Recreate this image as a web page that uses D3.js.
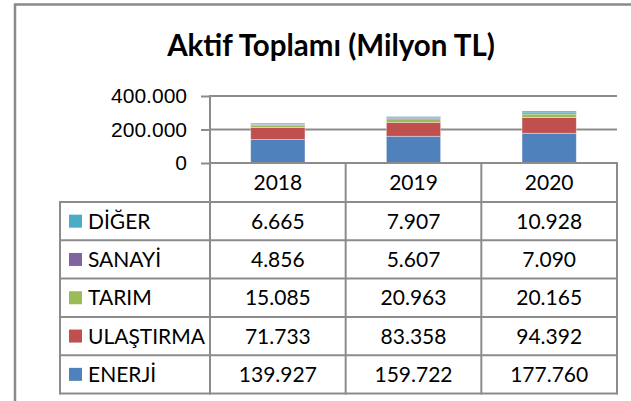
<!DOCTYPE html>
<html>
<head>
<meta charset="utf-8">
<script src="https://cdn.jsdelivr.net/npm/d3@7"></script>
<style>
    html, body { margin: 0; padding: 0; background: #fff; }
    svg { display: block; font-family: Lato, "Open Sans", sans-serif; }
    .lbl { font-size: 21px; fill: #000; }
    .grid { stroke: #8c8c8c; stroke-width: 2; }
</style>
</head>
<body>
<svg id="chart" width="631" height="401"></svg>
<script>
var years = ['2018', '2019', '2020'];

// series in stacking order (bottom to top)
var seriesNames = ['ENERJİ', 'ULAŞTIRMA', 'TARIM', 'SANAYİ', 'DİĞER'];
var enerji = [139927, 159722, 177760];
var ulastirma = [71733, 83358, 94392];
var tarim = [15085, 20963, 20165];
var sanayi = [4856, 5607, 7090];
var diger = [6665, 7907, 10928];
var seriesColors = ['#4f81bd', '#c0504d', '#9bbb59', '#8064a2', '#4bacc6'];
var yTicks = [0, 200000, 400000];

(function (d3) {
    var svg = d3.select('#chart');

    var tr = d3.formatLocale({ decimal: ',', thousands: '.', grouping: [3], currency: ['', ' TL'] });
    var fmt = tr.format(',d');

    var values = [enerji, ulastirma, tarim, sanayi, diger];
    var rows = years.map(function (yr, i) {
        var r = { year: yr };
        seriesNames.forEach(function (s, k) { r[s] = values[k][i]; });
        return r;
    });

    var x = d3.scaleBand().domain(years).range([210, 617]);
    var y = d3.scaleLinear().domain([0, 400000]).range([163, 96]);
    var color = d3.scaleOrdinal().domain(seriesNames).range(seriesColors);

    // outer chart frame (runs off the right and bottom of the picture)
    svg.append('rect')
        .attr('x', 15).attr('y', 4.5)
        .attr('width', 700).attr('height', 500)
        .attr('fill', 'none')
        .attr('stroke', '#8a8a8a')
        .attr('stroke-width', 2.5);

    svg.append('text')
        .attr('x', 331).attr('y', 56)
        .attr('text-anchor', 'middle')
        .attr('font-size', '29.5px')
        .attr('font-weight', 'bold')
        .text('Aktif Toplamı (Milyon TL)');

    // horizontal gridlines
    svg.append('g').selectAll('line')
        .data(yTicks.filter(function (t) { return t > 0; }))
        .enter().append('line')
        .attr('class', 'grid')
        .attr('x1', 210).attr('x2', 617)
        .attr('y1', function (d) { return y(d); })
        .attr('y2', function (d) { return y(d); });

    // stacked bars
    var stack = d3.stack().keys(seriesNames)(rows);
    var bw = x.bandwidth();
    svg.append('g').selectAll('g')
        .data(stack)
        .enter().append('g')
        .attr('fill', function (d) { return color(d.key); })
        .selectAll('rect')
        .data(function (d) { return d; })
        .enter().append('rect')
        .attr('x', function (d) { return x(d.data.year) + bw * 0.3; })
        .attr('width', bw * 0.4)
        .attr('y', function (d) { return y(d[1]); })
        .attr('height', function (d) { return y(d[0]) - y(d[1]); })
        .attr('stroke', 'rgba(255,255,255,0.45)')
        .attr('stroke-width', 0.8);

    // value axis
    var yAxis = svg.append('g')
        .attr('transform', 'translate(210,0)')
        .call(d3.axisLeft(y).tickValues(yTicks).tickSize(9).tickPadding(14).tickFormat(fmt));
    yAxis.select('.domain').remove();
    yAxis.selectAll('line').attr('stroke', '#8c8c8c').attr('stroke-width', 2);
    yAxis.selectAll('text')
        .attr('class', 'lbl')
        .attr('font-family', null).attr('font-size', null);
    svg.append('line').attr('class', 'grid')
        .attr('x1', 210).attr('x2', 210).attr('y1', 95).attr('y2', 202);

    // data table
    var rowH = 38.3;
    var top = 202;
    var tableRows = seriesNames.slice().reverse();
    var g = svg.append('g');

    // header row with years
    g.selectAll('text.yr')
        .data(years)
        .enter().append('text')
        .attr('class', 'lbl')
        .attr('x', function (d) { return x(d) + bw / 2; })
        .attr('y', 190)
        .attr('text-anchor', 'middle')
        .text(function (d) { return d; });

    tableRows.forEach(function (s, r) {
        var ty = top + r * rowH;
        g.append('rect')
            .attr('x', 69).attr('y', ty + rowH / 2 - 6.5)
            .attr('width', 13).attr('height', 13)
            .attr('fill', color(s));
        g.append('text')
            .attr('class', 'lbl')
            .attr('x', 88).attr('y', ty + rowH / 2 + 7.5)
            .text(s);
        g.selectAll(null)
            .data(rows)
            .enter().append('text')
            .attr('class', 'lbl')
            .attr('x', function (d) { return x(d.year) + bw / 2; })
            .attr('y', ty + rowH / 2 + 7.5)
            .attr('text-anchor', 'middle')
            .text(function (d) { return fmt(d[s]); });
    });

    // table lines
    var bottom = top + tableRows.length * rowH;
    d3.range(tableRows.length + 1).forEach(function (i) {
        g.append('line').attr('class', 'grid')
            .attr('x1', 60).attr('x2', 617)
            .attr('y1', top + i * rowH).attr('y2', top + i * rowH);
    });
    g.append('line').attr('class', 'grid')
        .attr('x1', 209).attr('x2', 617).attr('y1', 163).attr('y2', 163);
    g.append('line').attr('class', 'grid')
        .attr('x1', 60).attr('x2', 60).attr('y1', top - 1).attr('y2', bottom + 1);
    years.forEach(function (yr) {
        g.append('line').attr('class', 'grid')
            .attr('x1', x(yr) + bw).attr('x2', x(yr) + bw)
            .attr('y1', 162).attr('y2', bottom + 1);
    });
    g.append('line').attr('class', 'grid')
        .attr('x1', 210).attr('x2', 210).attr('y1', 163).attr('y2', bottom + 1);
})(window.d3);
</script>
</body>
</html>
